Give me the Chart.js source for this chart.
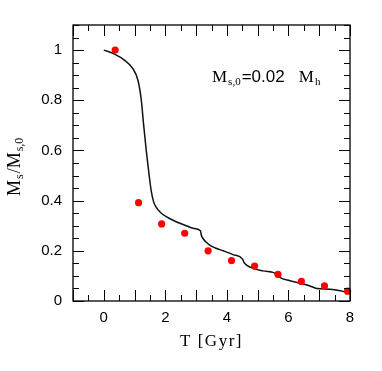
<!DOCTYPE html>
<html>
<head>
<meta charset="utf-8">
<style>
  html, body { margin: 0; padding: 0; background: #fff; }
</style>
<script src="https://cdn.jsdelivr.net/npm/chart.js@4.4.0/dist/chart.umd.min.js"></script>
</head>
<body>
<canvas id="massChart" width="382" height="371"></canvas>
<script>
// model curve (solid line)
const curveT = [0, 0.35, 0.67, 0.94, 1.11, 1.22, 1.29, 1.38, 1.47, 1.54, 1.62, 1.70, 1.85, 2.03, 2.25, 2.47, 2.70, 2.90, 3.14, 3.17, 3.22, 3.32, 3.44, 3.65, 3.88, 4.20, 4.51, 4.56, 4.64, 4.85, 5.18, 5.62, 5.72, 6.05, 6.48, 6.70, 6.92, 7.35, 7.68, 8.0];
const curveM = [1.0, 0.984, 0.960, 0.927, 0.88, 0.80, 0.708, 0.60, 0.505, 0.44, 0.395, 0.374, 0.352, 0.336, 0.322, 0.310, 0.299, 0.290, 0.280, 0.262, 0.250, 0.235, 0.223, 0.210, 0.200, 0.185, 0.167, 0.153, 0.143, 0.130, 0.120, 0.108, 0.094, 0.081, 0.068, 0.060, 0.050, 0.047, 0.041, 0.031];

// simulation points (red dots)
const pointT = [0.37, 1.13, 1.88, 2.63, 3.39, 4.15, 4.90, 5.66, 6.42, 7.17, 7.92];
const pointM = [1.0, 0.392, 0.307, 0.270, 0.200, 0.161, 0.139, 0.106, 0.078, 0.060, 0.039];

// tick labels
const xTickLabels = [0, 2, 4, 6, 8];
const yTickLabels = [0, 0.2, 0.4, 0.6, 0.8, 1];

const serif = '"Liberation Serif", "DejaVu Serif", serif';
const sans = '"Liberation Sans", Arial, sans-serif';

// draws text pieces, some of them as subscripts
function drawPieces(ctx, pieces, x, y) {
    let cx = x;
    pieces.forEach(p => {
        ctx.font = p.font;
        ctx.fillText(p.text, cx, y + (p.dy || 0));
        cx += ctx.measureText(p.text).width + (p.gap || 0);
    });
}

const framePlugin = {
    id: 'frame',
    afterDraw(chart) {
        const ctx = chart.ctx;
        const a = chart.chartArea;
        const xs = chart.scales.x, ys = chart.scales.y;
        ctx.save();
        ctx.strokeStyle = '#000';
        ctx.lineWidth = 1.3;
        ctx.strokeRect(a.left, a.top, a.right - a.left, a.bottom - a.top);

        // inward ticks on all four sides
        ctx.lineWidth = 1;
        ctx.beginPath();
        for (let i = 0; i <= 18; i++) {
            const v = -1 + i * 0.5;
            const len = (i % 2 === 0) ? 11 : 6;
            const px = Math.round(xs.getPixelForValue(v)) + 0.5;
            ctx.moveTo(px, a.bottom); ctx.lineTo(px, a.bottom - len);
            ctx.moveTo(px, a.top); ctx.lineTo(px, a.top + len);
        }
        for (let i = 0; i <= 22; i++) {
            const v = i * 0.05;
            const len = (i % 4 === 0) ? 11 : 6;
            const py = Math.round(ys.getPixelForValue(v)) + 0.5;
            ctx.moveTo(a.left, py); ctx.lineTo(a.left + len, py);
            ctx.moveTo(a.right, py); ctx.lineTo(a.right - len, py);
        }
        ctx.stroke();

        ctx.fillStyle = '#000';
        ctx.textBaseline = 'alphabetic';
        ctx.textAlign = 'left';

        // annotation
        drawPieces(ctx, [
            { text: 'M', font: '17px ' + serif, gap: 1 },
            { text: 's,0', font: '11px ' + serif, dy: 3, gap: 1 },
            { text: '=0.02   ', font: '17px ' + sans },
            { text: 'M', font: '17px ' + serif, gap: 1 },
            { text: 'h', font: '11px ' + serif, dy: 3 }
        ], 212, 82);

        // x axis title
        ctx.font = '17px ' + serif;
        ctx.letterSpacing = '1.5px';
        ctx.textAlign = 'center';
        ctx.fillText('T [Gyr]', (a.left + a.right) / 2, 346);
        ctx.letterSpacing = '0px';

        // y axis title
        ctx.translate(20, 196);
        ctx.rotate(-Math.PI / 2);
        ctx.textAlign = 'left';
        drawPieces(ctx, [
            { text: 'M', font: '18px ' + serif, gap: 1 },
            { text: 's', font: '12px ' + serif, dy: 3, gap: 1 },
            { text: '/M', font: '18px ' + serif, gap: 1 },
            { text: 's,0', font: '12px ' + serif, dy: 3 }
        ], 0, 0);
        ctx.restore();
    }
};

const ctx = document.getElementById('massChart').getContext('2d');
new Chart(ctx, {
    type: 'scatter',
    data: {
        datasets: [
            {
                label: 'model',
                type: 'line',
                data: curveT.map((t, i) => ({ x: t, y: curveM[i] })),
                borderColor: '#111',
                borderWidth: 1.5,
                pointRadius: 0,
                fill: false,
                cubicInterpolationMode: 'monotone',
                order: 2
            },
            {
                label: 'simulation',
                data: pointT.map((t, i) => ({ x: t, y: pointM[i] })),
                backgroundColor: '#ff0000',
                borderColor: '#ff0000',
                borderWidth: 0,
                pointRadius: 3.6,
                order: 1
            }
        ]
    },
    options: {
        responsive: false,
        animation: false,
        clip: false,
        layout: { padding: { top: 25, right: 32, left: 0, bottom: 0 } },
        plugins: {
            legend: { display: false },
            tooltip: { enabled: false }
        },
        scales: {
            x: {
                type: 'linear',
                min: -1,
                max: 8,
                grid: { display: false, drawTicks: false },
                border: { display: false },
                afterBuildTicks: scale => { scale.ticks = xTickLabels.map(v => ({ value: v })); },
                afterFit: scale => { scale.height = 70; },
                ticks: {
                    padding: 8,
                    color: '#000',
                    maxRotation: 0,
                    font: { family: sans, size: 15 },
                    callback: v => String(v)
                }
            },
            y: {
                type: 'linear',
                min: 0,
                max: 1.1,
                grid: { display: false, drawTicks: false },
                border: { display: false },
                afterBuildTicks: scale => { scale.ticks = yTickLabels.map(v => ({ value: v })); },
                afterFit: scale => { scale.width = 73; },
                ticks: {
                    padding: 11,
                    color: '#000',
                    font: { family: sans, size: 15 },
                    callback: v => String(v)
                }
            }
        }
    },
    plugins: [framePlugin]
});
</script>
</body>
</html>
